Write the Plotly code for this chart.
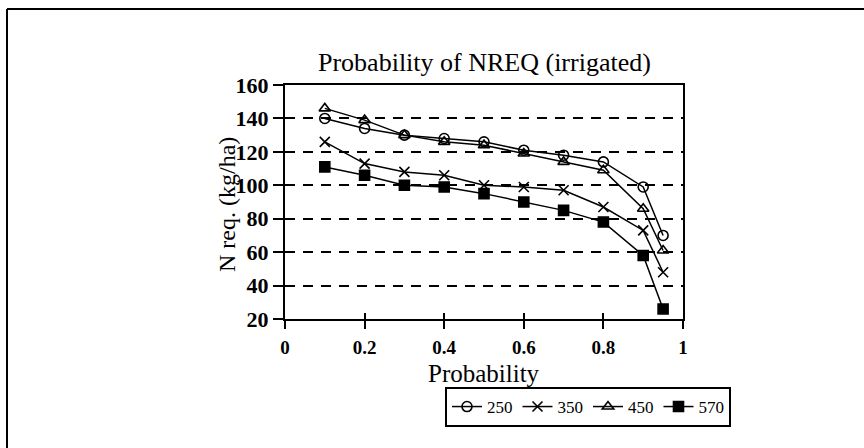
import plotly.graph_objects as go

# Probability levels and nitrogen requirement (kg/ha) for each soil water level
probability = [0.1, 0.2, 0.3, 0.4, 0.5, 0.6, 0.7, 0.8, 0.9, 0.95]
n_250 = [140, 134, 130, 128, 126, 121, 118, 114, 99, 70]
n_350 = [126, 113, 108, 106, 100, 99, 97, 87, 73, 48]
n_450 = [146, 139, 130, 126, 124, 119, 114, 109, 86, 61]
n_570 = [111, 106, 100, 99, 95, 90, 85, 78, 58, 26]

series_names = ["250", "350", "450", "570"]
series_values = [n_250, n_350, n_450, n_570]
series_symbols = ["circle-open", "x-thin", "triangle-up-open", "square"]

x_ticks = [0, 0.2, 0.4, 0.6, 0.8, 1]
x_tick_text = ["0", "0.2", "0.4", "0.6", "0.8", "1"]
y_ticks = [20, 40, 60, 80, 100, 120, 140, 160]

SERIF = "Liberation Serif, Times New Roman, serif"

# plot area in pixels (left, right, top, bottom)
PL, PR, PT, PB = 285, 683, 85, 319
W, H = 864, 448


def px_x(px):
    return (px - PL) / (PR - PL)


def px_y(py):
    return (PB - py) / (PB - PT)


fig = go.Figure()
for name, vals, sym in zip(series_names, series_values, series_symbols):
    fig.add_trace(go.Scatter(
        x=probability, y=vals, name=name, mode="lines+markers",
        line=dict(color="black", width=1.5),
        marker=dict(symbol=sym, size=10, color="black",
                    line=dict(color="black", width=1.6)),
    ))

# empty trace that brings up the overlay axes carrying the inner tick marks
fig.add_trace(go.Scatter(x=[None], y=[None], xaxis="x2", yaxis="y2",
                         showlegend=False, hoverinfo="skip"))

axis_common = dict(showline=True, linecolor="black", linewidth=2,
                   mirror=True, zeroline=False, tickcolor="black",
                   tickwidth=2)

fig.update_layout(
    width=W, height=H,
    margin=dict(l=PL, r=W - PR, t=PT, b=H - PB),
    paper_bgcolor="white", plot_bgcolor="white",
    font=dict(family=SERIF, color="black"),
    xaxis=dict(range=[0, 1], tickvals=x_ticks, ticktext=x_tick_text,
               ticks="outside", ticklen=8, showgrid=False,
               ticklabelstandoff=2,
               tickfont=dict(size=19, family=SERIF, weight="bold"),
               **axis_common),
    yaxis=dict(range=[20, 160], tickvals=y_ticks, ticks="outside",
               ticklen=10, showgrid=True, gridcolor="black", gridwidth=2,
               griddash="10px,8px",
               tickfont=dict(size=22, family=SERIF, weight="bold"),
               **axis_common),
    xaxis2=dict(range=[0, 1], overlaying="x", tickvals=x_ticks,
                ticks="inside", ticklen=6, showticklabels=False,
                showgrid=False, showline=False, zeroline=False,
                tickcolor="black", tickwidth=2, side="bottom"),
    yaxis2=dict(range=[20, 160], overlaying="y", tickvals=y_ticks,
                ticks="inside", ticklen=6, showticklabels=False,
                showgrid=False, showline=False, zeroline=False,
                tickcolor="black", tickwidth=2, side="left"),
    legend=dict(orientation="h", x=px_x(588), y=px_y(387),
                xanchor="center", yanchor="top",
                bordercolor="black", borderwidth=2,
                bgcolor="white", font=dict(size=17, family=SERIF),
                itemwidth=30),
    showlegend=True,
)

# chart title and axis titles
fig.add_annotation(text="Probability of NREQ (irrigated)", xref="paper",
                   yref="paper", x=px_x(484), y=px_y(63), showarrow=False,
                   xanchor="center", yanchor="middle",
                   font=dict(size=26, family=SERIF))
fig.add_annotation(text="Probability", xref="paper", yref="paper",
                   x=px_x(484), y=px_y(373), showarrow=False,
                   xanchor="center", yanchor="middle",
                   font=dict(size=25, family=SERIF))
fig.add_annotation(text="N req. (kg/ha)", xref="paper", yref="paper",
                   x=px_x(227), y=px_y(205), showarrow=False,
                   textangle=-90, xanchor="center", yanchor="middle",
                   font=dict(size=24, family=SERIF))

# outer frame: top and left edges
fig.add_shape(type="line", xref="paper", yref="paper",
              x0=px_x(7), x1=px_x(W), y0=px_y(9), y1=px_y(9),
              line=dict(color="black", width=2))
fig.add_shape(type="line", xref="paper", yref="paper",
              x0=px_x(7), x1=px_x(7), y0=px_y(9), y1=px_y(H),
              line=dict(color="black", width=2))

fig.write_html("out.html")
